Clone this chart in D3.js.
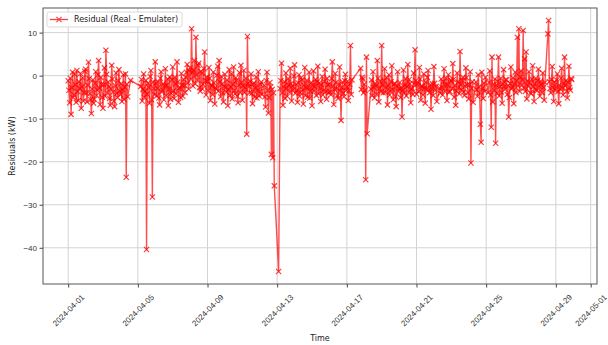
<!DOCTYPE html>
<html>
<head>
<meta charset="utf-8">
<script src="https://cdn.jsdelivr.net/npm/d3@7"></script>
<style>
  body { margin: 0; background: #fff; }
  svg { font-family: "DejaVu Sans", sans-serif; }
</style>
</head>
<body>
<svg id="chart"></svg>
<script>
// residuals (kW), one reading per hour (00:00 .. 23:00); null = no reading
const apr01 = [-1.2,-3.4,-6.3,-0.6,-9.0,-2.8,0.8,-5.1,-4.5,0.3,-2.1,-6.2,1.2,-3.7,-5.8,-1.4,-3.0,0.5,-7.6,-2.6,-0.5,-5.9,-3.9,1.0];
const apr02 = [1.5,-4.0,-6.1,-2.2,3.1,-0.7,-4.2,-5.6,-8.8,-3.1,-1.0,-6.4,-5.5,-1.8,0.9,-4.6,-3.3,0.2,3.5,-2.9,-6.7,-0.4,-2.0,-5.0];
const apr03 = [-7.6,-2.1,1.8,-4.8,5.9,0.3,-4.0,-1.5,-2.6,-5.3,-6.9,-3.0,2.4,-0.8,-3.8,-5.9,-7.2,-2.4,0.6,-4.1,-5.1,-1.2,1.4,-3.6];
const apr04 = [-4.4,-1.9,-6.0,-3.3,0.2,-5.5,-2.7,0.4,-23.6,-2.0,-4.9,null,null,null,-1.1,null,null,null,null,null,null,null,null,null];
const apr05 = [null,null,null,null,-2.5,-0.9,-5.9,-3.2,0.4,-5.0,-3.6,-1.1,-40.4,-4.3,-1.8,-2.7,-6.4,-0.2,1.2,-5.6,-28.2,-1.5,-3.0,-4.4];
const apr06 = [3.2,-1.7,-4.7,-2.9,-1.5,-5.2,-6.8,-0.6,0.9,-3.8,-3.4,-1.9,-5.6,-2.4,1.6,-4.6,-2.2,-0.8,-7.0,-3.1,-0.3,-5.5,-4.1,-1.0];
const apr07 = [2.0,-3.6,-5.3,-0.4,-1.9,-4.2,3.2,-1.5,-6.2,-3.0,-2.7,-5.1,0.5,-2.2,-4.8,-0.9,-2.3,-3.9,-0.4,0.8,2.6,-1.7,-3.1,1.1];
const apr08 = [1.8,-0.8,10.9,0.7,-2.4,1.3,3.5,-1.9,8.9,0.2,-1.0,2.4,2.9,-2.8,-3.6,1.0,0.6,-3.1,-2.0,1.6,5.5,-1.2,-4.5,-0.3];
const apr09 = [-1.3,-3.5,1.9,-0.6,-5.8,-2.1,-2.4,-4.4,0.8,-1.7,-6.6,-2.8,-3.1,0.1,2.2,-3.6,3.5,-1.4,-4.9,-0.2,-2.0,-4.0,-6.1,-2.5];
const apr10 = [0.3,-2.7,-3.8,-1.0,-7.0,-3.3,1.4,-4.6,-2.6,0.4,-5.4,-2.0,2.0,-3.5,-4.2,-0.5,-1.1,-4.8,-6.3,-2.2,0.7,-3.9,2.4,-1.6];
const apr11 = [-5.7,-2.4,1.2,-3.9,-2.8,-0.6,-13.6,9.1,-1.8,-2.5,-4.0,-1.3,0.4,-4.1,-6.5,-2.0,-1.7,-5.0,-2.9,-0.3,-5.2,-3.4,0.9,-4.7];
const apr12 = [-3.7,-2.0,-1.5,-4.4,null,null,-2.3,-4.9,-7.3,-1.2,0.8,-3.5,-8.7,-5.1,-1.6,-2.6,-18.3,-3.2,-19.1,-4.0,-25.6,null,null,null];
const apr13 = [null,null,-45.5,null,-3.0,-1.2,2.9,-4.0,-6.9,-2.6,-1.4,-5.3,0.6,-2.9,-4.8,-0.7,-2.2,-3.8,1.7,-1.9,-5.9,-2.4,-3.3,-0.1];
const apr14 = [2.5,-4.1,-2.0,-3.5,-6.2,-1.7,0.2,-4.8,-3.9,-0.5,-1.0,-3.3,-6.6,-2.2,1.9,-4.6,-2.8,-1.1,-5.0,-2.7,0.8,-5.2,-3.6,-1.6];
const apr15 = [-7.0,-2.3,1.1,-3.6,-2.5,-0.9,-4.6,-1.5,2.2,-4.2,-1.7,-3.0,-6.0,-2.1,-0.2,-4.5,-3.4,-1.3,1.5,-3.7,-5.5,-0.6,-2.1,-4.0];
const apr16 = [-1.9,-3.8,-4.4,-0.7,3.2,-2.4,-6.7,-3.2,0.5,-1.6,-3.0,-4.7,-5.3,-2.0,2.0,-3.5,-10.4,-2.8,-1.5,-4.1,-4.9,-1.2,0.3,-3.4];
const apr17 = [-2.6,-1.3,-5.8,-3.5,-2.0,7.0,-4.4,-1.0,null,null,null,null,null,null,null,null,null,null,null,1.7,-3.2,-0.4,-0.8,-4.0];
const apr18 = [-2.0,-3.4,-24.2,4.3,-13.5,null,null,null,null,-3.1,-1.0,-4.6,0.9,-2.7,-5.2,-1.8,-2.4,-4.3,3.5,-0.6,-6.1,-2.9,-1.3,-3.8];
const apr19 = [7.0,-2.2,-4.0,-1.1,1.6,-3.9,-2.7,-0.5,-6.8,-2.4,0.2,-4.5,-3.5,-1.4,2.3,-3.2,-5.6,-2.0,-1.8,-4.8,-7.2,-2.6,0.9,-3.7];
const apr20 = [-3.0,-1.6,-5.1,-2.8,-9.6,-3.4,1.3,-4.0,-2.2,-0.7,-4.7,-2.5,2.6,-3.8,-0.9,-1.9,-6.3,-3.1,-2.9,-4.4,0.6,-2.0,6.0,-1.2];
const apr21 = [-4.3,-2.0,-1.6,-3.7,1.9,-0.8,-5.7,-2.4,-2.5,-4.5,0.4,-2.9,-6.4,-1.5,-3.1,-0.4,1.2,-3.3,-4.0,-2.1,-7.8,-3.0,-1.9,-4.6];
const apr22 = [2.1,-1.8,-3.4,-2.5,-6.0,null,null,null,-2.9,-4.1,-0.8,-2.7,-4.5,-1.4,1.6,-3.6,-2.3,-0.6,-5.8,-2.2,0.2,-3.9,-3.7,-1.0];
const apr23 = [-1.2,-3.0,2.8,-0.9,-5.0,-2.3,-6.9,-3.6,0.6,-1.5,-2.7,-4.2,5.6,-2.0,-3.3,-1.1,-0.4,-3.8,-4.6,-2.4,1.8,-0.5,-2.1,-4.0];
const apr24 = [-5.4,-2.1,0.9,-20.3,-3.0,-1.4,-6.2,null,null,null,-1.5,-3.3,-4.8,0.2,-2.6,-4.0,-11.3,-15.5,0.8,-2.9,-5.3,-1.7,-3.6,-0.4];
const apr25 = [null,null,null,-3.9,-1.6,1.1,-4.5,-12.0,4.3,-6.1,-2.0,-3.4,-0.8,-15.7,-2.2,-4.1,-1.3,4.3,-4.7,-2.5,-0.6,-3.8,-6.4,-1.9];
const apr26 = [1.4,-2.6,-3.2,-0.9,-1.0,-4.4,-2.3,-9.6,-5.1,-1.8,2.0,-3.1,-2.7,-0.5,-6.5,-2.0,0.8,-3.9,-1.2,8.9,-2.4,10.9,-3.6,-0.3];
const apr27 = [1.1,-2.2,-1.0,10.5,-2.9,3.9,-3.7,5.5,-5.4,-1.3,-2.5,0.9,-1.6,-4.0,-4.2,-0.8,2.3,-2.6,-6.0,-1.9,-0.7,-3.3,-3.5,-1.1];
const apr28 = [1.5,-2.4,-4.8,-1.3,-2.0,-3.9,0.6,-2.8,-5.7,-1.6,null,null,null,9.7,12.8,-1.4,-3.0,-4.0,-0.9,2.1,-2.7,-6.0,-1.5,-3.4];
const apr29 = [-2.6,-1.0,0.4,-3.7,-6.5,-2.2,-3.1,-0.6,1.7,-2.9,-4.5,-1.8,4.3,-2.4,-1.2,-3.6,-5.2,-1.5,2.2,-2.8,-3.4,-0.7,-0.9,null];

const dayValues = [apr01, apr02, apr03, apr04, apr05, apr06, apr07, apr08, apr09, apr10,
  apr11, apr12, apr13, apr14, apr15, apr16, apr17, apr18, apr19, apr20,
  apr21, apr22, apr23, apr24, apr25, apr26, apr27, apr28, apr29];
const firstDay = "2024-04-01";

const xTickLabels = ["2024-04-01", "2024-04-05", "2024-04-09", "2024-04-13", "2024-04-17",
  "2024-04-21", "2024-04-25", "2024-04-29", "2024-05-01"];
const yTicks = [10, 0, -10, -20, -30, -40];
const seriesName = "Residual (Real - Emulater)";

const width = 608, height = 345;
const margin = { top: 8, right: 11, bottom: 61, left: 43 };
const innerW = width - margin.left - margin.right;
const innerH = height - margin.top - margin.bottom;

const parseDay = d3.utcParse("%Y-%m-%d");
const start = parseDay(firstDay);

const data = [];
dayValues.forEach((vals, di) => {
  vals.forEach((v, h) => {
    if (v === null) return;
    data.push({ t: d3.utcHour.offset(start, di * 24 + h), value: v });
  });
});

// matplotlib style 5% padding around data extent
const tExt = d3.extent(data, d => +d.t);
const tPad = (tExt[1] - tExt[0]) * 0.05;
const vExt = d3.extent(data, d => d.value);
const vPad = (vExt[1] - vExt[0]) * 0.05;

const xScale = d3.scaleUtc()
  .domain([new Date(tExt[0] - tPad), new Date(tExt[1] + tPad)])
  .range([0, innerW]);
const yScale = d3.scaleLinear()
  .domain([vExt[0] - vPad, vExt[1] + vPad])
  .range([innerH, 0]);

const svg = d3.select("#chart")
  .attr("width", width)
  .attr("height", height);

const g = svg.append("g")
  .attr("transform", `translate(${margin.left}, ${margin.top})`);

const xTickDates = xTickLabels.map(parseDay);
const fmtMinus = v => String(v).replace("-", "\u2212");

// grid
g.append("g").selectAll("line").data(yTicks).join("line")
  .attr("x1", 0).attr("x2", innerW)
  .attr("y1", d => yScale(d)).attr("y2", d => yScale(d))
  .attr("stroke", "#d3d3d3").attr("stroke-width", 1);
g.append("g").selectAll("line").data(xTickDates).join("line")
  .attr("x1", d => xScale(d)).attr("x2", d => xScale(d))
  .attr("y1", 0).attr("y2", innerH)
  .attr("stroke", "#d3d3d3").attr("stroke-width", 1);

// axes
const xAxis = d3.axisBottom(xScale).tickValues(xTickDates).tickSize(3.5).tickFormat(d3.utcFormat("%Y-%m-%d"));
const yAxis = d3.axisLeft(yScale).tickValues(yTicks).tickSize(3.5).tickFormat(fmtMinus);

const gx = g.append("g")
  .attr("class", "x-axis")
  .attr("transform", `translate(0, ${innerH})`)
  .call(xAxis);
gx.select(".domain").remove();
gx.selectAll(".tick line").attr("stroke", "#444");
gx.selectAll(".tick text")
  .attr("fill", "#333")
  .attr("font-size", "8px")
  .attr("text-anchor", "middle")
  .attr("dy", null)
  .attr("y", null)
  .attr("dominant-baseline", "central")
  .attr("transform", "translate(0, 26.5) rotate(-45)");

const gy = g.append("g")
  .attr("class", "y-axis")
  .call(yAxis);
gy.select(".domain").remove();
gy.selectAll(".tick line").attr("stroke", "#444");
gy.selectAll(".tick text")
  .attr("fill", "#333")
  .attr("font-size", "8px")
  .attr("x", -6);

// series
const line = d3.line()
  .x(d => xScale(d.t))
  .y(d => yScale(d.value));

const series = g.append("g");
series.append("path")
  .datum(data)
  .attr("class", "line")
  .attr("fill", "none")
  .attr("stroke", "red")
  .attr("stroke-opacity", 0.7)
  .attr("stroke-width", 1.4)
  .attr("stroke-linejoin", "round")
  .attr("d", line);

const xMark = "M-2.6,-2.6L2.6,2.6M-2.6,2.6L2.6,-2.6";
series.append("g").selectAll("path").data(data).join("path")
  .attr("transform", d => `translate(${xScale(d.t)}, ${yScale(d.value)})`)
  .attr("d", xMark)
  .attr("stroke", "red")
  .attr("stroke-opacity", 0.75)
  .attr("stroke-width", 1.2)
  .attr("fill", "none");

// frame
g.append("rect")
  .attr("width", innerW).attr("height", innerH)
  .attr("fill", "none")
  .attr("stroke", "#555")
  .attr("stroke-width", 1);

// legend
const lg = g.append("g").attr("transform", "translate(4, 4)");
lg.append("rect")
  .attr("width", 135).attr("height", 15).attr("rx", 2)
  .attr("fill", "#fff").attr("fill-opacity", 0.85)
  .attr("stroke", "#d0d0d0").attr("stroke-width", 0.8);
const lgItem = lg.append("g").attr("opacity", 0.75);
lgItem.append("line")
  .attr("x1", 3).attr("x2", 21).attr("y1", 7.5).attr("y2", 7.5)
  .attr("stroke", "red").attr("stroke-width", 1.3);
lgItem.append("path")
  .attr("transform", "translate(12, 7.5)")
  .attr("d", xMark)
  .attr("stroke", "red").attr("stroke-width", 1.1).attr("fill", "none");
lg.append("text")
  .attr("x", 27).attr("y", 7.5)
  .attr("dominant-baseline", "central")
  .attr("font-size", "8px")
  .attr("fill", "#222")
  .text(seriesName);

// axis labels
svg.append("text")
  .attr("x", margin.left + innerW / 2)
  .attr("y", 341)
  .attr("text-anchor", "middle")
  .attr("font-size", "8px")
  .attr("fill", "#222")
  .text("Time");
svg.append("text")
  .attr("transform", `translate(12, ${margin.top + innerH / 2}) rotate(-90)`)
  .attr("text-anchor", "middle")
  .attr("dominant-baseline", "central")
  .attr("font-size", "8px")
  .attr("fill", "#222")
  .text("Residuals (kW)");
</script>
</body>
</html>
